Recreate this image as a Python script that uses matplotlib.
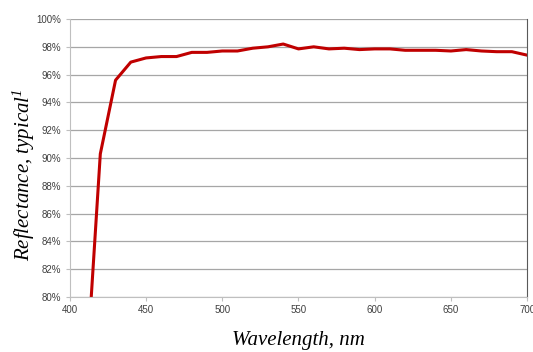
import numpy as np
import matplotlib.pyplot as plt
from matplotlib.ticker import PercentFormatter

wavelength = [410, 420, 430, 440, 450, 460, 470, 480, 490, 500, 510, 520, 530, 540, 550,
              560, 570, 580, 590, 600, 610, 620, 630, 640, 650, 660, 670, 680, 690, 700]
reflectance = [73.0, 90.3, 95.6, 96.9, 97.2, 97.3, 97.3, 97.6, 97.6, 97.7, 97.7, 97.9, 98.0, 98.2, 97.85,
               98.0, 97.85, 97.9, 97.8, 97.85, 97.85, 97.75, 97.75, 97.75, 97.7, 97.8, 97.7, 97.65, 97.65, 97.4]

plt.rcParams['mathtext.fontset'] = 'custom'
plt.rcParams['mathtext.it'] = 'Liberation Serif:italic'
plt.rcParams['mathtext.rm'] = 'Liberation Serif:italic'

fig = plt.figure(figsize=(5.33, 3.52), dpi=100)
ax = fig.add_axes([0.131, 0.156, 0.858, 0.790])

ax.plot(wavelength, reflectance, color='#C00000', lw=2.2, solid_joinstyle='round')
ax.set_xlim(400, 700)
ax.set_ylim(80, 100)
ax.set_xticks(np.arange(400, 701, 50))
ax.set_yticks(np.arange(80, 101, 2))
ax.yaxis.set_major_formatter(PercentFormatter(decimals=0))
ax.grid(axis='y', color='#A6A6A6', lw=0.9)
ax.set_axisbelow(True)

for s in ['left', 'bottom']:
    ax.spines[s].set_color('#BFBFBF')
ax.spines['top'].set_visible(False)
ax.spines['right'].set_color('#595959')
ax.tick_params(colors='#BFBFBF', labelcolor='#404040', labelsize=7, length=3, pad=3)
for lab in ax.get_xticklabels() + ax.get_yticklabels():
    lab.set_family('Liberation Sans')

ax.set_xlabel('Wavelength, nm', family='Liberation Serif', style='italic', fontsize=15)
ax.set_ylabel('Reflectance, typical$^{\\mathit{1}}$', family='Liberation Serif', style='italic', fontsize=15)
ax.xaxis.set_label_coords(0.5, -0.155)
ax.yaxis.set_label_coords(-0.1, 0.44)
ax.xaxis.label.set_verticalalignment('center')
ax.yaxis.label.set_verticalalignment('center')

fig.savefig('out.png', dpi=100)
